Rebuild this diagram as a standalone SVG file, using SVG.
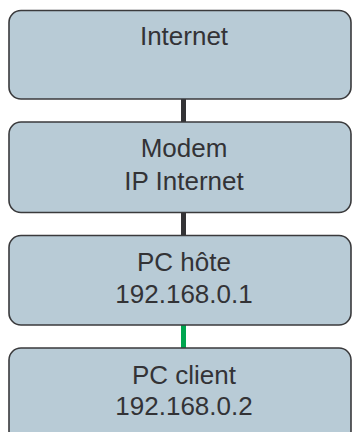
<svg xmlns="http://www.w3.org/2000/svg" width="352" height="432" viewBox="0 0 352 432">
<style>
.box{fill:#b8cbd6;stroke:#3a3a3c;stroke-width:1.6}
.t{font-family:"Liberation Sans",Arial,sans-serif;font-size:26px;fill:#333336;text-anchor:middle}
.c{stroke-width:5;fill:none}
</style>
<rect width="352" height="432" fill="#ffffff"/>
<g id="connectors">
<line class="c" x1="183.5" y1="99" x2="183.5" y2="122" stroke="#333336"/>
<line class="c" x1="183.5" y1="212.5" x2="183.5" y2="235.5" stroke="#333336"/>
<line class="c" x1="183.5" y1="325" x2="183.5" y2="348" stroke="#00a650"/>
</g>
<g id="internet">
<rect class="box" x="9" y="10.5" width="342" height="88.5" rx="12"/>
<text class="t" x="184" y="45">Internet</text>
</g>
<g id="modem">
<rect class="box" x="9" y="122" width="342" height="90.5" rx="12"/>
<text class="t" x="184" y="157">Modem</text>
<text class="t" x="184" y="190">IP Internet</text>
</g>
<g id="pc-hote">
<rect class="box" x="9" y="235.5" width="342" height="89.5" rx="12"/>
<text class="t" x="184" y="271">PC hôte</text>
<text class="t" x="184" y="303">192.168.0.1</text>
</g>
<g id="pc-client">
<rect class="box" x="9" y="348" width="342" height="95" rx="12"/>
<text class="t" x="184" y="384">PC client</text>
<text class="t" x="184" y="415">192.168.0.2</text>
</g>
</svg>
